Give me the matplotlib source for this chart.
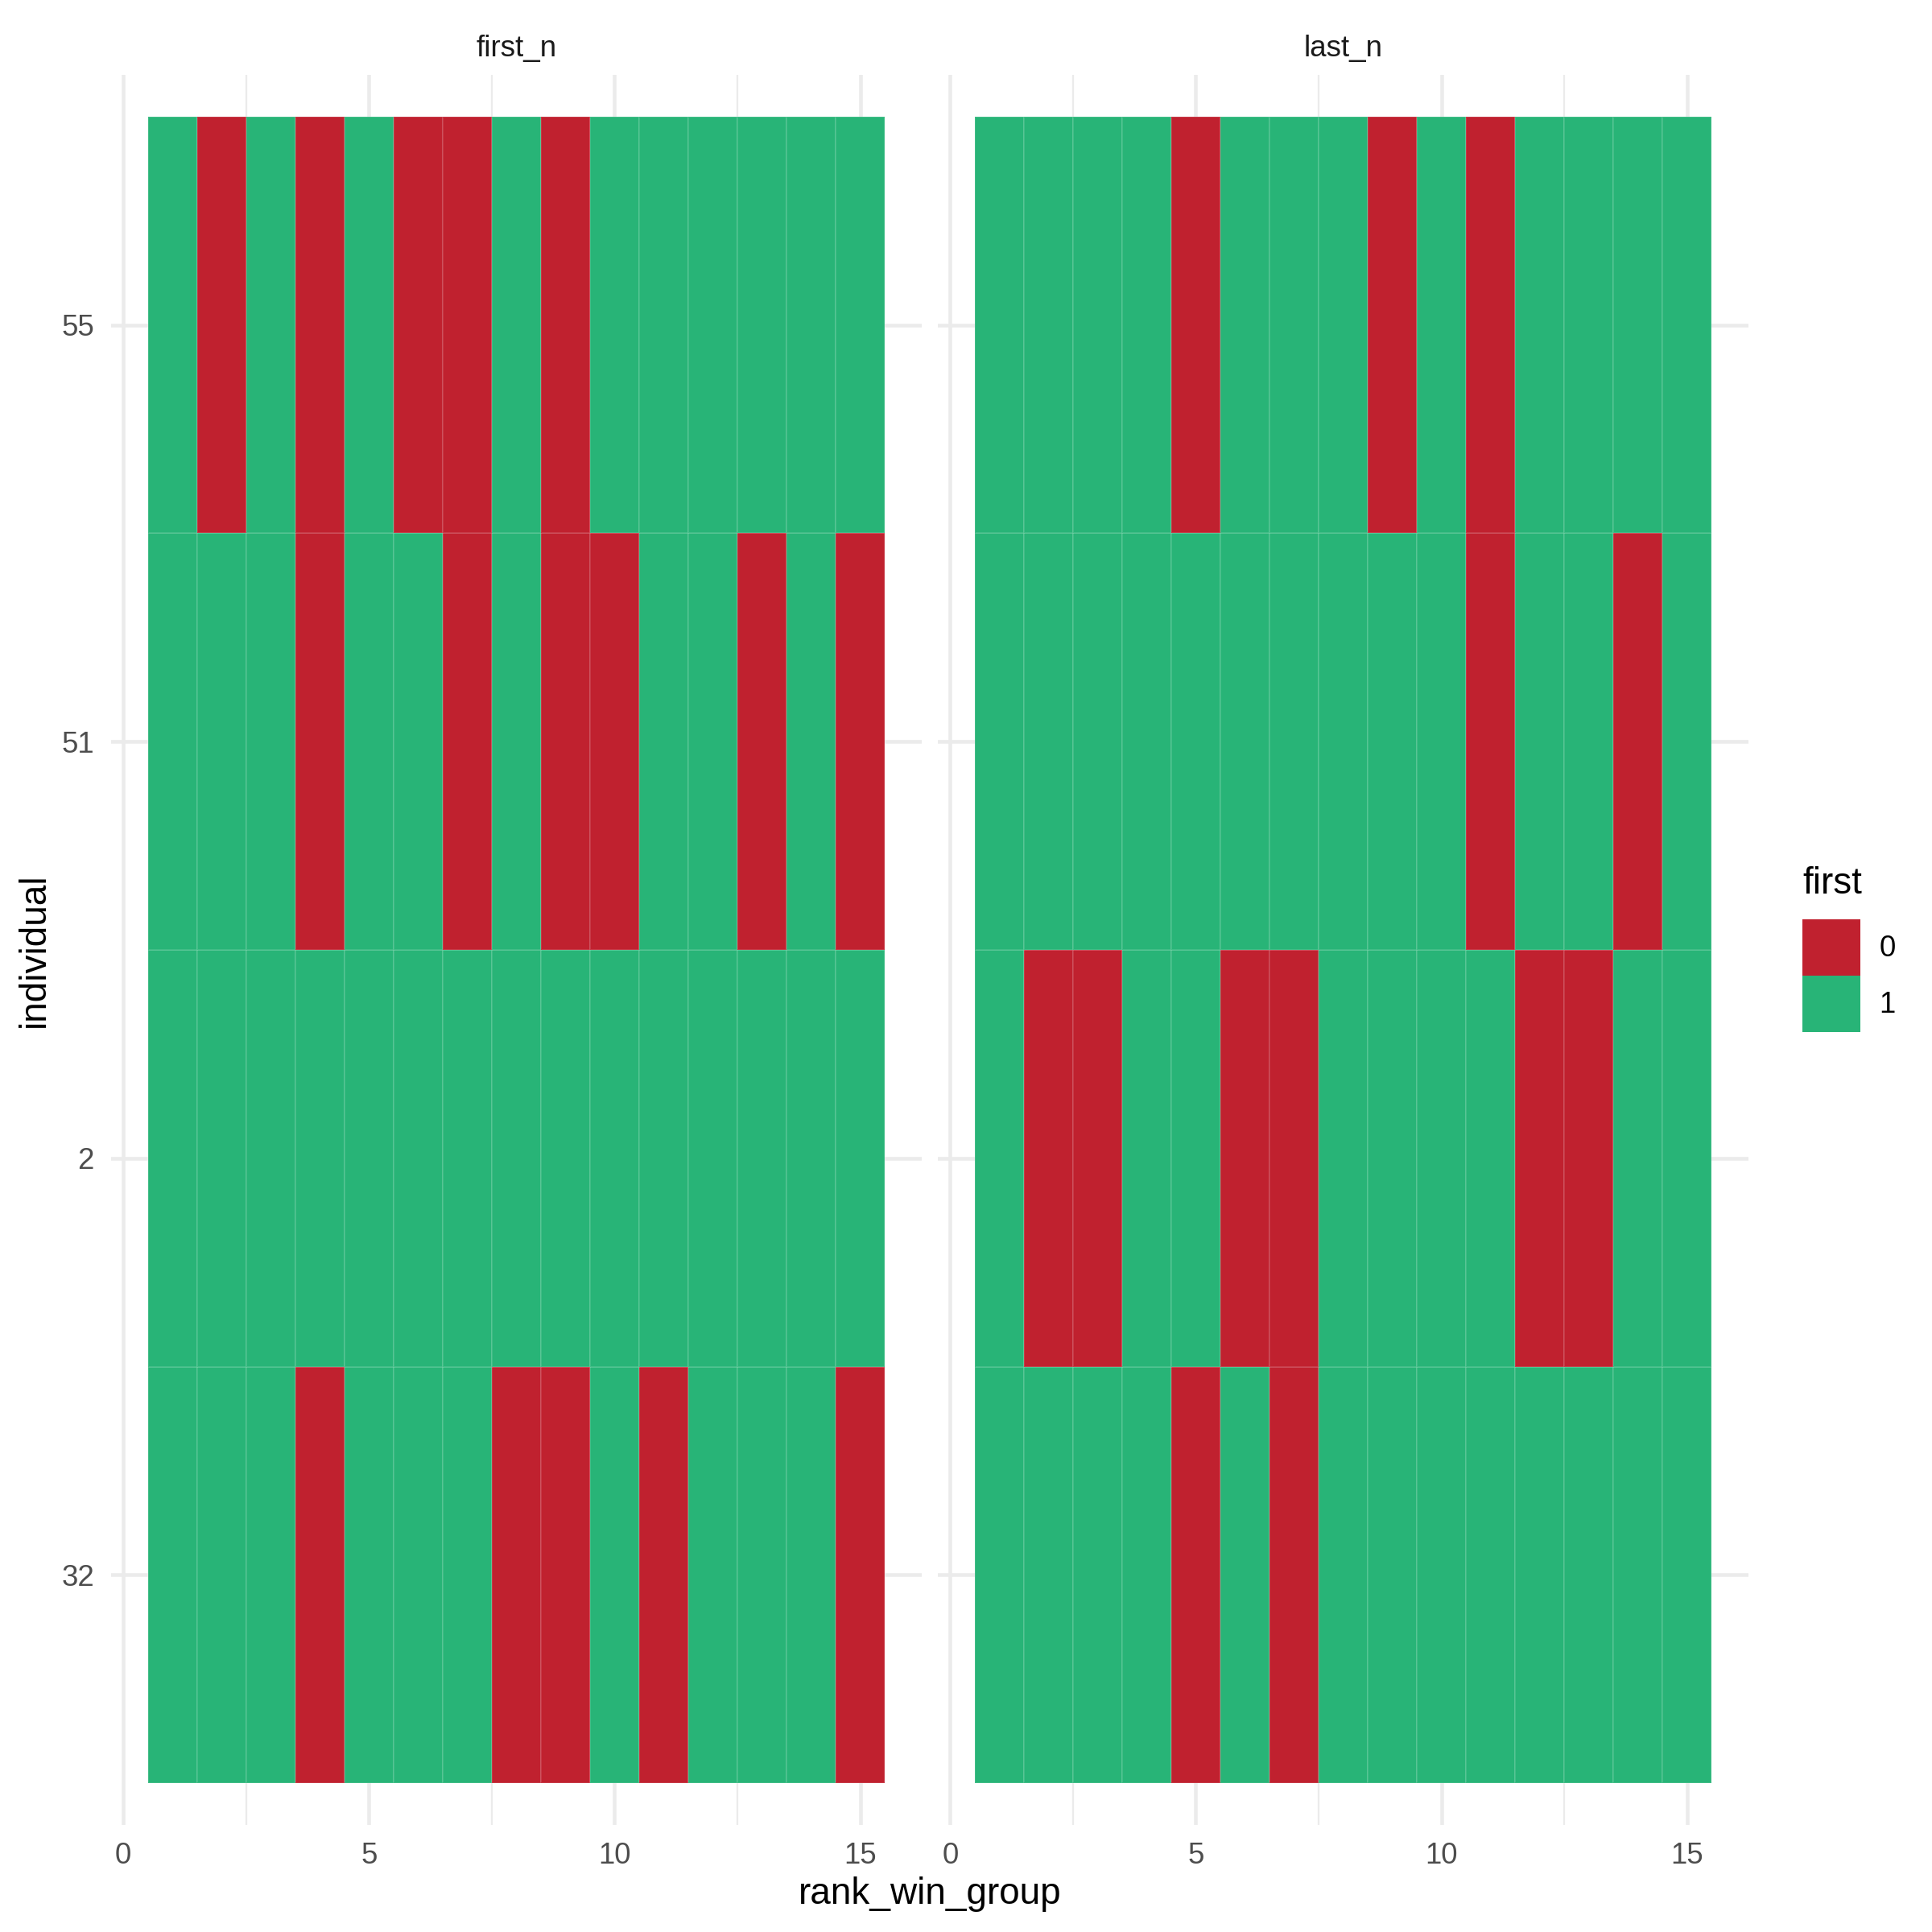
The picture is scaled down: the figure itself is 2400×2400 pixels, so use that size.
import numpy as np
import matplotlib
matplotlib.use("Agg")
import matplotlib.pyplot as plt
from matplotlib.colors import ListedColormap
from matplotlib.patches import Patch

plt.rcParams['font.family'] = ['Liberation Sans', 'DejaVu Sans']

# donnees
individuals = ["32", "2", "51", "55"]   # du bas vers le haut
ranks = np.arange(1, 16)
facets = ["first_n", "last_n"]

first_n = {
    "55": [1, 0, 1, 0, 1, 0, 0, 1, 0, 1, 1, 1, 1, 1, 1],
    "51": [1, 1, 1, 0, 1, 1, 0, 1, 0, 0, 1, 1, 0, 1, 0],
    "2":  [1, 1, 1, 1, 1, 1, 1, 1, 1, 1, 1, 1, 1, 1, 1],
    "32": [1, 1, 1, 0, 1, 1, 1, 0, 0, 1, 0, 1, 1, 1, 0],
}
last_n = {
    "55": [1, 1, 1, 1, 0, 1, 1, 1, 0, 1, 0, 1, 1, 1, 1],
    "51": [1, 1, 1, 1, 1, 1, 1, 1, 1, 1, 0, 1, 1, 0, 1],
    "2":  [1, 0, 0, 1, 1, 0, 0, 1, 1, 1, 1, 0, 0, 1, 1],
    "32": [1, 1, 1, 1, 0, 1, 0, 1, 1, 1, 1, 1, 1, 1, 1],
}
levels = ["0", "1"]
colors = ["#C0212F", "#28B477"]

cmap = ListedColormap(colors)
grid_col = "#EBEBEB"

fig = plt.figure(figsize=(8, 8), dpi=300)
W = H = 2400.0
panels = [(137.8, 1145.0), (1165.0, 2172.0)]
top, bottom = 93.0, 2267.0

xedges = np.append(ranks - 0.5, ranks[-1] + 0.5)
yedges = np.arange(len(individuals) + 1) - 0.5

for i, (name, data) in enumerate(zip(facets, [first_n, last_n])):
    x0, x1 = panels[i]
    ax = fig.add_axes([x0 / W, 1 - bottom / H, (x1 - x0) / W, (bottom - top) / H])
    Z = np.array([data[ind] for ind in individuals])
    ax.pcolormesh(xedges, yedges, Z, cmap=cmap, vmin=-0.5, vmax=1.5,
                  edgecolors=(1, 1, 1, 0.12), linewidth=0.4, zorder=2)
    ax.set_xlim(-0.25, 16.25)
    ax.set_ylim(-0.6, len(individuals) - 0.4)
    ax.set_xticks([0, 5, 10, 15])
    ax.set_xticks([2.5, 7.5, 12.5], minor=True)
    ax.set_yticks(range(len(individuals)))
    ax.set_yticklabels(individuals if i == 0 else [])
    ax.grid(True, which="major", color=grid_col, linewidth=1.1, zorder=0)
    ax.grid(True, which="minor", axis="x", color=grid_col, linewidth=0.55, zorder=0)
    ax.set_axisbelow(True)
    for s in ax.spines.values():
        s.set_visible(False)
    ax.tick_params(which="both", length=0, labelsize=8.8, labelcolor="#4D4D4D", pad=5)
    ax.annotate(name, xy=(0.5, 1), xycoords="axes fraction", xytext=(0, 7.9),
                textcoords="offset points", ha="center", va="center",
                fontsize=8.8, color="#1A1A1A")

fig.text(1155 / W, 1 - 2353 / H, "rank_win_group", ha="center", va="center", fontsize=11)
fig.text(43 / W, 1 - (top + bottom) / 2 / H, "individual", ha="center", va="center",
         rotation=90, fontsize=11)

# legende : titre a part pour garder l'ecart
fig.text(2239 / W, 1 - 1098 / H, "first", ha="left", va="center", fontsize=11)
handles = [Patch(facecolor=c, edgecolor="none") for c in colors]
fig.legend(handles, levels, loc="upper left",
           bbox_to_anchor=(2239 / W, 1 - 1142 / H), frameon=False,
           fontsize=8.8, handlelength=1.96, handleheight=2.55,
           labelspacing=0, handletextpad=0.65, borderpad=0, borderaxespad=0)

fig.savefig("out.png", dpi=300, facecolor="white")
